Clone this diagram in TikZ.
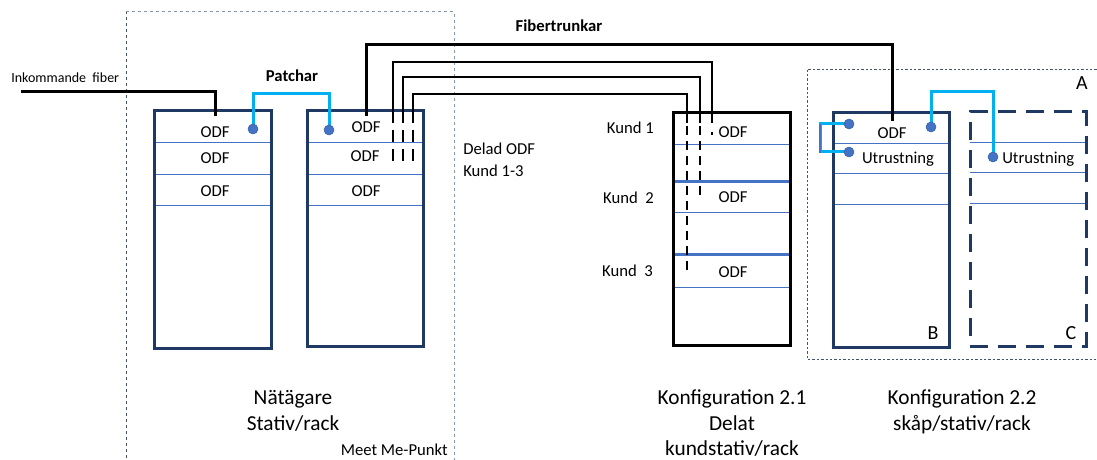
\documentclass[tikz,border=0pt]{standalone}
\usepackage{fontspec}
\setmainfont{Carlito}
\usetikzlibrary{fit,calc}
\definecolor{navy}{HTML}{1F3864}
\definecolor{mblue}{HTML}{4472C4}
\definecolor{cyanl}{HTML}{00B0F0}
\definecolor{grayb}{HTML}{8497B0}
\definecolor{slate}{HTML}{44546A}
\begin{document}
\begin{tikzpicture}[x=0.75pt,y=-0.75pt,
  txt/.style={font=\fontsize{12.5pt}{15pt}\selectfont, inner sep=0, anchor=base},
  small/.style={font=\fontsize{10.5pt}{13pt}\selectfont, inner sep=0, anchor=base west},
  bold/.style={font=\fontsize{12.5pt}{15pt}\selectfont\bfseries, inner sep=0, anchor=base},
  big/.style={font=\fontsize{16pt}{19pt}\selectfont, inner sep=0, anchor=base},
  letter/.style={font=\fontsize{15pt}{18pt}\selectfont, inner sep=0, anchor=base},
  rackbox/.style={draw=navy, line width=2.25pt, inner sep=0},
  rackblack/.style={draw=black, line width=2.25pt, inner sep=0},
  rackdash/.style={draw=navy, line width=2.25pt, inner sep=0, dash pattern=on 13.5pt off 7.5pt},
  div/.style={draw=mblue, line width=0.75pt},
  divthick/.style={draw=mblue, line width=2.25pt},
  fiber/.style={draw=black, line width=2.25pt},
  trunk/.style={draw=black, line width=1.8pt},
  trunkdash/.style={draw=black, line width=1.8pt, dash pattern=on 9pt off 5.25pt},
  trunkdashb/.style={draw=black, line width=1.8pt, dash pattern=on 6.75pt off 4.5pt},
  patch/.style={draw=cyanl, line width=2.25pt},
  jumper/.style={draw=mblue, line width=2pt},
  dot/.style={circle, fill=mblue, draw=mblue!85!black, line width=0.4pt, inner sep=0, minimum size=7.5pt},
  meetbox/.style={line width=0.75pt, dash pattern=on 2.25pt off 2.25pt},
  abox/.style={draw=slate, line width=0.6pt, dash pattern=on 1.8pt off 1.5pt}]
\useasboundingbox (0,0) rectangle (1097,460);

% Meet Me-Punkt area
\draw[meetbox, draw=slate] (126,470) -- (126,12);
\draw[meetbox, draw=grayb] (126,12) -- (454,12) -- (454,470);
% A area
\draw[abox] (1110,69) -- (807,69) -- (807,359) -- (1110,359);

% dividers
\foreach \y in {143,174,205} \draw[div] (154,\y) -- (271,\y);
\foreach \y in {143,174,205} \draw[div] (307,\y) -- (423,\y);
\foreach \y in {145,212,287} \draw[div] (673,\y) -- (790,\y);
\foreach \y in {181,254} \draw[divthick] (673,\y) -- (790,\y);
\foreach \y in {144,173,204} \draw[div] (833,\y) -- (949,\y);
\foreach \y in {143,172,203} \draw[div] (970,\y) -- (1086,\y);

% racks
\node[rackbox, fit={(154,111) (271,348)}] (r1) {};
\node[rackbox, fit={(307,111) (423,346)}] (r2) {};
\node[rackblack, fit={(673,113) (790,345)}] (r21) {};
\node[rackbox, fit={(833,113) (949,347)}] (rB) {};
\node[rackdash, fit={(970,112) (1086,346)}] (rC) {};

% coordinates for connectors
\coordinate (in) at (21,92);
\coordinate (r1in) at (215,116);
\coordinate (d1) at (253,129);
\coordinate (d2) at (329,130);
\coordinate (ptop) at (291,94);
\coordinate (t1a) at (366,116);
\coordinate (t1top) at (600,45);
\coordinate (t1b) at (892,121);
\coordinate (t2a) at (393,123);
\coordinate (t2top) at (550,62);
\coordinate (t2b) at (712,123);
\coordinate (t3a) at (403,123);
\coordinate (t3top) at (550,77);
\coordinate (t3b) at (700,123);
\coordinate (t4a) at (413,123);
\coordinate (t4top) at (550,94);
\coordinate (t4b) at (687,123);
\coordinate (b1) at (849,124);
\coordinate (b2) at (849,152);
\coordinate (lp) at (820,138);
\coordinate (b3) at (931,127);
\coordinate (c1) at (993,157);
\coordinate (bctop) at (962,92);

% incoming fiber
\draw[fiber] (in) -| (r1in);
% patch cords
\draw[patch] (d1) |- (ptop) -| (d2);
\draw[patch] (b3) |- (bctop) -| (c1);
\draw[patch] (b1) -| (lp) |- (b2);
\draw[jumper] (820,124) -- (820,153);

% trunks
\draw[fiber] (t1a) |- (t1top) -| (t1b);
\draw[trunk] (t2a) |- (t2top) -| (t2b);
\draw[trunk] (t3a) |- (t3top) -| (t3b);
\draw[trunk] (t4a) |- (t4top) -| (t4b);
\draw[trunkdash] (t2a |- 0,130) -- (t2a |- 0,162);
\draw[trunkdash] (t3a |- 0,130) -- (t3a |- 0,162);
\draw[trunkdash] (t4a |- 0,130) -- (t4a |- 0,162);
\draw[trunk] (t2b |- 0,132) -- (t2b |- 0,135.5);
\draw[trunkdashb] (t3b |- 0,126) -- (t3b |- 0,197);
\draw[trunkdashb] (t4b |- 0,126) -- (t4b |- 0,273);

% dots
\node[dot] (dot1) at (d1) {};
\node[dot] (dot2) at (d2) {};
\node[dot] (dot3) at (b1) {};
\node[dot] (dot4) at (b2) {};
\node[dot] (dot5) at (b3) {};
\node[dot] (dot6) at (c1) {};

% texts
\node[small] (tin) at (11,82.7) {Inkommande\ \ fiber};
\node[bold] (tpatch) at (292,81.7) {Patchar};
\node[bold] (ttrunk) at (559,31.7) {Fibertrunkar};

\node[txt] (o11) at (215,137.3) {ODF};
\node[txt] (o12) at (215,164) {ODF};
\node[txt] (o13) at (215,196) {ODF};
\node[txt] (o21) at (366,132.3) {ODF};
\node[txt] (o22) at (365,161.7) {ODF};
\node[txt] (o23) at (366,196) {ODF};

\node[txt, anchor=base west] (del1) at (463,155) {Delad ODF};
\node[txt, anchor=base west] (del2) at (463,176) {Kund 1-3};

\node[txt, anchor=base east] (k1) at (654,133.4) {Kund 1};
\node[txt, anchor=base east] (k2) at (654,203.3) {Kund\ \ 2};
\node[txt, anchor=base east] (k3) at (653,276.7) {Kund\ \ 3};
\node[txt] (o31) at (733,137.3) {ODF};
\node[txt] (o32) at (733,202.7) {ODF};
\node[txt] (o33) at (733,277.3) {ODF};

\node[txt] (oB) at (892,138.3) {ODF};
\node[txt] (uB) at (898,164) {Utrustning};
\node[txt, anchor=base west] (uC) at (1002,164) {Utrustning};

\node[letter] (la) at (1082,90) {A};
\node[letter] (lb) at (933,339) {B};
\node[letter] (lc) at (1071,339) {C};

\node[big] (n1) at (293,404) {Nätägare};
\node[big] (n2) at (293,430.7) {Stativ/rack};
\node[txt, anchor=base east] (mm) at (448,455.7) {Meet Me-Punkt};

\node[big] (k21a) at (732,404) {Konfiguration 2.1};
\node[big] (k21b) at (732,430) {Delat};
\node[big] (k21c) at (732,455.7) {kundstativ/rack};
\node[big] (k22a) at (962,404) {Konfiguration 2.2};
\node[big] (k22b) at (962,430) {skåp/stativ/rack};
\end{tikzpicture}
\end{document}
